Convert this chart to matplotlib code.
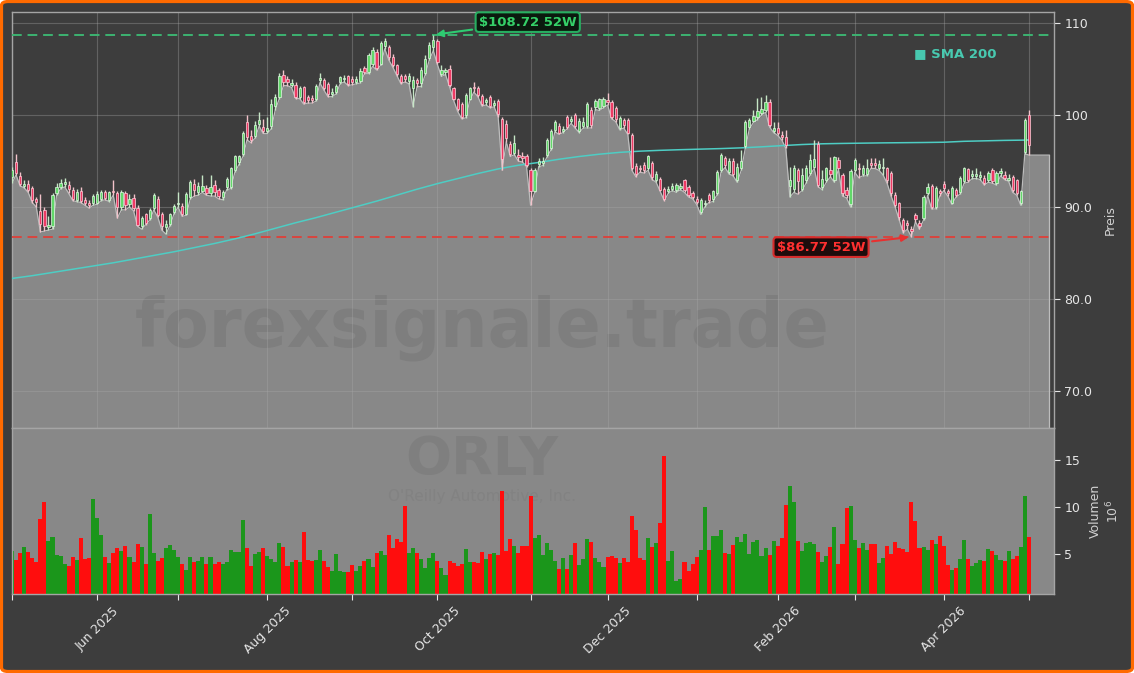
import matplotlib
matplotlib.use('Agg')
import matplotlib.pyplot as plt
from matplotlib.patches import FancyBboxPatch
import numpy as np

# ORLY daily candles, 2025-05-01 .. 2026-05-01 (trading-day index 0..251)
opens = [
    93.3, 94.9, 93.4, 92.3, 92.5, 92.1, 90.9, 89.6, 89.7, 87.8,
    88.0, 91.5, 92.2, 92.5, 92.4, 91.9, 90.8, 91.7, 90.8, 90.5,
    90.4, 90.5, 90.9, 91.6, 90.8, 91.8, 91.5, 90.0, 91.5, 90.3,
    91.0, 89.9, 87.9, 89.2, 88.8, 89.9, 90.9, 89.2, 87.8, 88.2,
    89.5, 90.3, 90.1, 89.3, 91.1, 92.5, 91.6, 91.8, 92.1, 91.5,
    92.4, 91.85, 91.05, 92.2, 92.2, 94.0, 94.9, 95.8, 99.2, 97.7,
    97.7, 99.0, 98.7, 98.3, 98.8, 101.0, 102.0, 104.4, 103.9, 103.3,
    103.3, 102.0, 103.0, 102.0, 101.9, 101.7, 103.8, 103.8, 103.4, 102.3,
    102.5, 103.6, 103.9, 104.2, 103.9, 103.6, 103.7, 105.1, 104.7, 105.6,
    106.9, 105.6, 107.5, 107.4, 106.3, 105.4, 104.3, 104.2, 103.7, 102.9,
    103.8, 103.5, 104.6, 106.2, 107.4, 108.0, 104.5, 104.7, 105.0, 102.9,
    101.7, 101.2, 100.0, 101.8, 103.1, 102.9, 102.1, 101.4, 102.0, 101.1,
    101.5, 99.6, 99.0, 96.9, 95.9, 95.7, 95.6, 95.5, 94.0, 91.8,
    94.7, 94.8, 95.65, 96.4, 98.4, 98.8, 98.3, 99.75, 99.4, 100.0,
    98.3, 98.8, 98.8, 100.6, 100.9, 100.8, 101.0, 101.6, 101.45, 100.8,
    98.6, 99.5, 99.5, 97.8, 94.5, 94.3, 94.6, 94.2, 94.8, 92.9,
    93.1, 92.0, 91.8, 92.0, 91.85, 92.1, 92.9, 92.2, 91.5, 90.9,
    89.5, 90.3, 91.3, 90.9, 91.5, 94.0, 95.3, 93.8, 95.0, 92.9,
    94.2, 96.6, 98.7, 99.4, 99.75, 100.2, 100.5, 101.45, 98.3, 98.55,
    97.8, 97.6, 92.3, 92.0, 94.0, 92.0, 92.9, 93.7, 94.4, 96.9,
    92.2, 92.9, 94.0, 92.9, 95.1, 93.5, 91.85, 90.3, 94.0, 94.3,
    93.6, 93.6, 94.8, 94.8, 94.3, 94.2, 94.2, 93.7, 91.3, 90.4,
    88.6, 88.3, 87.6, 89.1, 88.3, 88.8, 91.5, 92.3, 90.0, 91.7,
    92.5, 91.7, 90.5, 91.9, 91.6, 92.8, 94.1, 93.4, 93.4, 93.3,
    93.2, 92.9, 94.0, 92.6, 93.7, 93.5, 93.0, 93.3, 92.9, 90.4,
    96.0, 100.0]
highs = [
    94.4, 95.8, 93.8, 93.0, 92.9, 92.3, 91.1, 91.4, 90.0, 89.0,
    91.5, 92.6, 93.1, 93.2, 92.8, 92.2, 92.0, 92.2, 91.1, 90.8,
    91.4, 91.7, 91.9, 91.9, 91.8, 92.9, 91.8, 91.9, 91.8, 91.4,
    91.4, 90.2, 89.0, 89.4, 89.9, 91.5, 91.2, 89.5, 88.6, 89.4,
    90.3, 91.6, 90.4, 91.6, 92.9, 93.1, 92.7, 93.5, 92.4, 93.5,
    92.9, 92.1, 91.9, 93.3, 94.4, 95.7, 95.7, 98.3, 100.0, 98.4,
    99.4, 100.3, 99.6, 99.8, 101.7, 102.3, 104.6, 104.9, 104.3, 103.9,
    103.6, 103.2, 103.2, 102.2, 102.2, 103.4, 104.6, 104.0, 103.6, 102.9,
    103.4, 104.3, 104.4, 104.4, 104.3, 104.3, 105.1, 105.3, 106.7, 107.4,
    107.2, 108.1, 108.4, 107.6, 106.6, 105.6, 104.5, 104.5, 104.6, 104.2,
    104.0, 105.2, 106.5, 107.9, 108.72, 108.3, 105.4, 105.1, 105.4, 103.0,
    101.9, 101.4, 102.4, 103.1, 103.6, 103.2, 102.3, 101.9, 102.2, 101.6,
    101.7, 99.8, 99.5, 97.2, 97.8, 96.3, 96.0, 95.8, 94.2, 94.2,
    95.3, 95.4, 97.5, 98.5, 99.5, 99.1, 98.8, 100.0, 99.9, 100.2,
    99.7, 99.8, 101.4, 100.9, 101.8, 101.9, 102.0, 102.4, 101.6, 101.0,
    99.9, 99.7, 99.7, 98.0, 94.8, 94.6, 94.9, 95.7, 95.0, 93.9,
    93.3, 92.2, 92.3, 92.6, 92.6, 92.6, 93.1, 92.4, 91.8, 91.2,
    91.0, 90.8, 91.5, 91.9, 94.0, 95.9, 95.6, 95.3, 95.3, 94.8,
    96.2, 99.5, 99.7, 100.6, 101.9, 102.0, 102.2, 101.7, 99.2, 99.3,
    98.3, 98.4, 94.4, 94.6, 94.3, 94.2, 94.6, 95.8, 97.3, 97.2,
    94.0, 94.4, 95.4, 95.6, 95.4, 93.7, 92.2, 94.1, 95.3, 94.8,
    94.6, 95.2, 95.3, 95.3, 95.1, 95.3, 94.4, 93.9, 91.6, 90.6,
    88.8, 88.6, 87.9, 89.4, 88.6, 91.3, 92.6, 92.5, 92.3, 92.0,
    92.8, 92.0, 92.3, 92.1, 93.4, 94.4, 94.3, 94.0, 94.3, 93.9,
    93.5, 93.9, 94.2, 93.9, 94.2, 93.9, 93.6, 93.5, 93.1, 91.9,
    99.7, 100.6]
lows = [
    92.6, 93.5, 92.3, 92.1, 91.6, 90.5, 90.0, 87.3, 87.4, 87.5,
    87.6, 91.3, 92.0, 92.2, 91.5, 90.7, 90.6, 90.5, 90.2, 89.9,
    90.2, 90.3, 90.7, 90.8, 90.6, 91.3, 88.8, 89.7, 89.7, 90.0,
    89.6, 87.9, 87.6, 88.1, 88.6, 89.7, 88.9, 87.5, 87.07, 88.0,
    89.3, 90.0, 89.0, 89.1, 90.9, 91.2, 91.3, 91.6, 91.3, 91.2,
    91.2, 90.9, 90.8, 91.9, 92.0, 93.8, 94.6, 95.5, 97.3, 97.0,
    97.5, 98.8, 98.0, 98.0, 98.5, 100.6, 101.8, 103.2, 103.2, 103.0,
    101.8, 101.8, 101.2, 101.3, 101.3, 101.5, 103.5, 102.7, 102.0, 102.0,
    102.3, 103.4, 103.6, 103.2, 103.3, 103.4, 103.5, 104.5, 104.5, 105.3,
    104.9, 105.4, 107.2, 106.0, 105.2, 104.3, 103.4, 103.6, 103.4, 100.9,
    103.1, 103.1, 104.4, 106.0, 107.0, 105.5, 104.2, 104.4, 103.1, 101.6,
    100.4, 99.6, 99.7, 101.6, 102.5, 102.0, 101.0, 101.1, 100.8, 100.9,
    99.8, 94.0, 97.1, 95.5, 95.7, 95.0, 94.9, 94.4, 90.2, 91.6,
    94.4, 94.5, 95.4, 96.2, 98.2, 97.9, 98.1, 98.5, 99.1, 98.6,
    98.1, 98.6, 98.6, 98.6, 100.6, 100.5, 100.8, 101.1, 99.6, 99.3,
    98.4, 98.6, 97.9, 94.0, 93.3, 93.8, 93.7, 94.0, 93.0, 92.7,
    91.7, 90.7, 91.5, 91.8, 91.6, 91.9, 91.6, 91.1, 90.9, 90.3,
    89.2, 90.0, 90.5, 90.6, 91.3, 93.8, 94.3, 93.6, 93.4, 92.7,
    94.0, 96.4, 98.5, 99.2, 99.5, 100.0, 100.3, 98.7, 98.1, 97.8,
    97.3, 96.4, 91.1, 91.6, 91.4, 91.8, 92.6, 93.5, 94.2, 92.2,
    91.9, 92.7, 93.3, 92.7, 94.1, 91.2, 91.0, 90.0, 93.8, 93.2,
    93.4, 93.4, 94.2, 94.2, 94.0, 93.5, 92.6, 91.2, 90.0, 88.6,
    87.2, 87.6, 86.77, 88.4, 87.6, 88.6, 91.3, 89.8, 89.8, 91.2,
    91.8, 91.2, 90.3, 91.1, 91.4, 92.6, 92.7, 93.1, 93.1, 93.0,
    92.4, 92.7, 92.6, 92.4, 93.4, 93.0, 92.8, 91.6, 91.3, 90.2,
    95.8, 95.65]
closes = [
    94.0, 93.7, 92.5, 92.5, 91.9, 90.8, 90.6, 88.2, 87.9, 88.1,
    91.3, 92.2, 92.6, 92.7, 92.0, 90.9, 91.6, 90.7, 90.5, 90.2,
    91.2, 91.4, 91.6, 91.0, 91.6, 91.6, 90.0, 91.6, 90.2, 90.9,
    89.9, 88.1, 88.8, 88.3, 89.7, 91.3, 89.1, 87.9, 88.2, 89.2,
    90.1, 90.5, 89.2, 91.4, 92.7, 91.9, 92.3, 92.3, 91.5, 92.2,
    91.6, 91.2, 91.67, 93.1, 94.2, 95.5, 95.5, 98.1, 97.6, 97.3,
    98.9, 99.5, 98.3, 98.6, 101.2, 102.0, 104.2, 103.6, 103.6, 103.5,
    102.0, 102.9, 101.4, 101.6, 101.6, 103.2, 104.0, 102.9, 102.3, 102.5,
    103.2, 104.1, 104.0, 103.4, 103.6, 103.9, 104.8, 104.7, 106.5, 107.1,
    105.1, 107.8, 108.0, 106.3, 105.4, 104.5, 103.6, 103.9, 104.2, 103.8,
    103.5, 104.9, 106.1, 107.6, 108.2, 105.8, 104.9, 104.9, 103.3, 101.8,
    100.7, 99.8, 102.2, 102.9, 102.9, 102.2, 101.2, 101.6, 101.0, 101.3,
    100.1, 95.2, 97.5, 95.8, 97.0, 95.4, 95.3, 94.6, 91.7, 94.0,
    95.0, 95.0, 97.3, 98.3, 99.3, 98.1, 98.5, 98.7, 99.6, 98.8,
    99.4, 99.3, 101.2, 98.9, 101.5, 101.7, 101.8, 101.4, 99.8, 99.6,
    99.7, 98.9, 98.1, 94.2, 93.6, 94.1, 94.0, 95.5, 93.3, 93.6,
    91.9, 90.9, 92.0, 92.3, 92.4, 92.3, 91.85, 91.3, 91.1, 90.6,
    90.8, 90.5, 90.8, 91.7, 93.8, 95.65, 94.6, 95.0, 93.6, 94.4,
    95.0, 99.3, 99.5, 99.9, 100.4, 100.7, 101.45, 98.9, 98.6, 98.0,
    97.6, 96.7, 93.0, 94.2, 92.8, 93.5, 94.2, 95.1, 95.2, 92.4,
    93.1, 94.2, 93.6, 95.4, 94.3, 91.5, 91.3, 93.9, 95.1, 94.1,
    94.3, 94.3, 94.6, 94.6, 94.7, 94.4, 92.9, 91.5, 90.2, 88.9,
    87.5, 88.1, 87.4, 88.7, 87.9, 91.1, 92.2, 90.0, 92.1, 91.5,
    92.1, 91.5, 92.1, 91.3, 93.2, 94.2, 92.9, 93.6, 93.6, 93.5,
    92.6, 93.66, 92.8, 93.7, 93.9, 93.2, 93.2, 91.85, 91.56, 91.7,
    99.5, 96.74]
# volume in millions of shares
volumes = [
    5.32, 4.36, 5.14, 5.78, 5.2, 4.6, 4.19, 8.74, 10.55, 6.38,
    6.8, 4.9, 4.8, 3.94, 3.76, 4.72, 4.36, 6.7, 4.5, 4.57,
    10.87, 8.84, 7.0, 4.72, 4.0, 5.14, 5.64, 5.3, 5.85, 4.72,
    4.15, 6.07, 5.75, 3.94, 9.27, 5.07, 4.26, 4.57, 5.64, 5.96,
    5.43, 4.68, 3.94, 3.3, 4.68, 4.15, 4.26, 4.68, 3.94, 4.68,
    3.94, 4.15, 3.94, 4.15, 5.43, 5.2, 5.2, 8.6, 5.64, 3.76,
    5.0, 5.2, 5.64, 4.8, 4.47, 4.15, 6.17, 5.75, 3.72, 4.15,
    4.36, 4.15, 7.35, 4.36, 4.26, 4.36, 5.43, 4.26, 3.61, 3.2,
    5.0, 3.2, 3.09, 3.09, 3.83, 3.2, 3.72, 4.26, 4.47, 3.61,
    5.1, 5.3, 4.9, 7.0, 5.64, 6.6, 6.3, 10.1, 5.1, 5.64,
    5.1, 4.47, 3.55, 4.57, 5.1, 4.26, 3.5, 2.76, 4.26, 4.04,
    3.72, 3.94, 5.53, 4.19, 4.15, 4.08, 5.2, 4.47, 5.0, 5.1,
    4.9, 11.71, 5.3, 6.6, 5.85, 5.1, 5.85, 5.85, 11.2, 6.7,
    7.0, 4.9, 6.17, 5.43, 4.26, 3.4, 4.57, 3.4, 4.9, 6.17,
    3.83, 4.47, 6.6, 6.28, 4.57, 4.15, 3.61, 4.68, 4.8, 4.57,
    4.04, 4.57, 4.15, 9.04, 7.55, 4.57, 4.36, 6.7, 5.75, 6.17,
    8.3, 15.45, 4.26, 5.3, 2.1, 2.33, 4.15, 3.2, 3.94, 4.68,
    5.43, 10.0, 5.43, 6.9, 6.9, 7.55, 5.1, 5.0, 5.96, 6.8,
    6.28, 7.13, 5.0, 6.28, 6.5, 4.8, 5.64, 4.9, 6.38, 5.85,
    6.7, 10.2, 12.25, 10.55, 6.38, 5.3, 6.17, 6.28, 6.07, 5.2,
    4.15, 4.8, 5.75, 7.9, 3.94, 6.07, 9.9, 10.1, 6.5, 5.64,
    6.17, 5.43, 6.07, 6.07, 4.04, 4.57, 5.85, 5.0, 6.28, 5.64,
    5.53, 5.2, 10.5, 8.5, 5.64, 5.75, 5.43, 6.5, 6.07, 6.9,
    5.85, 3.83, 3.3, 3.5, 4.47, 6.5, 4.47, 3.72, 4.04, 4.36,
    4.26, 5.53, 5.3, 4.9, 4.36, 4.26, 5.3, 4.47, 4.8, 5.75,
    11.2, 6.8]

# SMA 200 sampled every 5th trading day (+ last day)
sma_days = list(range(0, 251, 5)) + [251]
sma_200 = [
    82.25, 82.55, 82.9, 83.25, 83.6, 83.95, 84.35, 84.75, 85.15, 85.6,
    86.05, 86.55, 87.1, 87.7, 88.3, 88.85, 89.45, 90.05, 90.65, 91.3,
    91.95, 92.55, 93.1, 93.65, 94.15, 94.55, 94.85, 95.2, 95.5, 95.75,
    95.95, 96.08, 96.17, 96.24, 96.3, 96.36, 96.44, 96.55, 96.68, 96.8,
    96.88, 96.92, 96.95, 96.98, 97.0, 97.02, 97.05, 97.15, 97.2, 97.25,
    97.28, 97.3]

month_ticks = [0, 21, 41, 63, 84, 105, 128, 147, 169, 189, 208, 230, 251]
month_labels = ['', 'Jun 2025', '', 'Aug 2025', '', 'Oct 2025', '', 'Dec 2025',
                '', 'Feb 2026', '', 'Apr 2026', '']
price_ticks = [70, 80, 90, 100, 110]
price_labels = ['70.0', '80.0', '90.0', '100', '110']
vol_ticks = [5, 10, 15]

high_52w = 108.72
high_52w_day = 104
low_52w = 86.77
low_52w_day = 222
ticker = 'ORLY'
company = "O'Reilly Automotive, Inc."
watermark = 'forexsignale.trade'

bg = '#3d3d3d'
gray = '#888888'
W, H = 1134, 673

fig = plt.figure(figsize=(W / 100, H / 100), dpi=100, facecolor='white')
frame = FancyBboxPatch((1.5 / W, 1.5 / H), 1 - 3 / W, 1 - 3 / H,
                       boxstyle='round,pad=0,rounding_size=0.006',
                       transform=fig.transFigure, facecolor=bg,
                       edgecolor='#ff6a00', linewidth=2.3, zorder=-5)
fig.add_artist(frame)

ax = fig.add_axes([12 / W, 1 - 428 / H, 1042 / W, 416 / H])
axv = fig.add_axes([12 / W, 1 - 594 / H, 1042 / W, 166 / H], sharex=ax)
ax.set_facecolor(bg)
axv.set_facecolor(gray)

x = np.arange(len(closes))
o = np.array(opens)
c = np.array(closes)
up = c >= o

# area under the lows
fx = np.append(x, 256)
fy = np.append(lows, lows[-1])
ax.fill_between(fx, fy, 60, color=gray, lw=0, zorder=1)
ax.plot(fx, fy, color='#bdbdbd', lw=0.9, zorder=2)
ax.plot([256, 256], [lows[-1], 60], color='#bdbdbd', lw=0.9, zorder=2)

ax.grid(True, color='#a8a8a8', alpha=0.35, lw=0.8)

# candles
wick_cols = ['#c6e6c6' if u else '#f2c2ca' for u in up]
ax.vlines(x, lows, highs, colors=wick_cols, lw=1.0, zorder=4)
body_low = np.minimum(o, c)
body_h = np.maximum(np.abs(c - o), 0.12)
ax.bar(x, body_h, bottom=body_low, width=0.56,
       color=['#62d86a' if u else '#ee3a64' for u in up],
       edgecolor=['#e2f6e2' if u else '#ffd0da' for u in up],
       lw=0.5, zorder=5)

ax.plot(sma_days, sma_200, color='#4ecdc4', lw=1.1, zorder=3.5)

ax.axhline(high_52w, color='#3cb371', ls=(0, (5, 3)), lw=1.4, zorder=3)
ax.axhline(low_52w, color='#d9453f', ls=(0, (5, 3)), lw=1.4, zorder=3)

ax.annotate(f'${high_52w:.2f} 52W', xy=(high_52w_day, high_52w), xytext=(127.3, 110.1),
            color='#35d068', fontsize=9.5, fontweight='bold', ha='center', va='center',
            bbox=dict(boxstyle='round,pad=0.25', fc='#0b1a0e', ec='#27ae60', lw=1.5),
            arrowprops=dict(arrowstyle='-|>', color='#2ecc71', lw=1.5, mutation_scale=10),
            zorder=7)
ax.annotate(f'${low_52w:.2f} 52W', xy=(low_52w_day, low_52w), xytext=(199.7, 85.65),
            color='#ff3030', fontsize=9.5, fontweight='bold', ha='center', va='center',
            bbox=dict(boxstyle='round,pad=0.25', fc='#1e0c0c', ec='#d62c2c', lw=1.5),
            arrowprops=dict(arrowstyle='-|>', color='#e83030', lw=1.5, mutation_scale=10),
            zorder=7)

ax.text(0.866, 0.899, '■ SMA 200', transform=ax.transAxes, color='#48c9b0',
        fontsize=9.5, fontweight='bold', ha='left', va='center')
ax.text(0.451, 0.24, watermark, transform=ax.transAxes, fontsize=48,
        fontweight='bold', color='#7e7e7e', ha='center', va='center', zorder=1.2)

ax.set_xlim(0, 257.2)
ax.set_ylim(66.0, 111.2)
ax.yaxis.tick_right()
ax.yaxis.set_label_position('right')
ax.set_yticks(price_ticks)
ax.set_yticklabels(price_labels)
ax.set_ylabel('Preis', color='#d0d0d0', fontsize=9, labelpad=8)
ax.tick_params(axis='y', colors='#e6e6e6', labelsize=9, length=4, width=0.8)
ax.tick_params(axis='x', bottom=False, labelbottom=False)

# volume panel
axv.bar(x, volumes, width=1.0, color=['#1b961b' if u else '#ff0d0d' for u in up], lw=0)
axv.text(0.451, 0.81, ticker, transform=axv.transAxes, fontsize=39, fontweight='bold',
         color='#7f7f7f', ha='center', va='center', zorder=0.5)
axv.text(0.451, 0.585, company, transform=axv.transAxes, fontsize=11,
         color='#828282', ha='center', va='center', zorder=0.5)
axv.set_ylim(0.74, 18.43)
axv.yaxis.tick_right()
axv.yaxis.set_label_position('right')
axv.set_yticks(vol_ticks)
axv.set_ylabel('Volumen\n$10^{6}$', color='#d0d0d0', fontsize=9, labelpad=6)
axv.set_xticks(month_ticks)
axv.set_xticklabels(month_labels, rotation=45, ha='center')
axv.tick_params(axis='both', colors='#e6e6e6', labelsize=9, length=4, width=0.8)

for a in (ax, axv):
    for s in a.spines.values():
        s.set_color('#a5a5a5')
        s.set_linewidth(1.0)

fig.savefig('out.png', dpi=100, facecolor=fig.get_facecolor())
